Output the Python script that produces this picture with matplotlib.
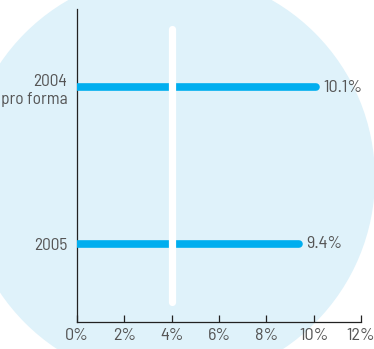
import numpy as np
import matplotlib
matplotlib.use('Agg')
import matplotlib.pyplot as plt
from matplotlib.patches import Circle

# Data
categories = ['2004\npro forma', '2005']
values = [10.1, 9.4]
positions = [1, 0]
xticks = [0, 2, 4, 6, 8, 10, 12]
xticklabels = ['0%', '2%', '4%', '6%', '8%', '10%', '12%']
marker_x = 4

text_color = '#555555'
bar_color = '#00aeef'
circle_color = '#dff2fa'

plt.rcParams['font.family'] = ['Barlow Semi Condensed', 'DejaVu Sans']
plt.rcParams['font.size'] = 13

fig = plt.figure(figsize=(3.74, 3.49), dpi=100)

# Background circle, drawn in pixel space
bg = fig.add_axes([0, 0, 1, 1])
bg.set_xlim(0, 374)
bg.set_ylim(349, 0)
bg.axis('off')
bg.add_patch(Circle((170, 178), 205, color=circle_color, lw=0))

# Main chart
ax = fig.add_axes([0.2059, 0.0774, 0.7594, 0.8968])
ax.patch.set_alpha(0)

for pos, val in zip(positions, values):
    ax.plot([0, val], [pos, pos], color=bar_color, lw=5.5,
            solid_capstyle='round', zorder=2)
    ax.text(val + 0.3, pos, f'{val}%', ha='left', va='center',
            color=text_color, fontsize=13)

# White reference line at 4%
ax.plot([marker_x, marker_x], [-0.37, 1.37], color='white', lw=5.2,
        solid_capstyle='round', zorder=3)

ax.set_xlim(0, 12)
ax.set_ylim(-0.5, 1.5)
ax.set_xticks(xticks)
ax.set_xticklabels(xticklabels)
ax.set_yticks(positions)
ax.set_yticklabels(categories, linespacing=1.25)

ax.spines['top'].set_visible(False)
ax.spines['right'].set_visible(False)
for s in ['left', 'bottom']:
    ax.spines[s].set_color('#222222')
    ax.spines[s].set_linewidth(0.9)
    ax.spines[s].set_zorder(1)

ax.tick_params(axis='x', direction='in', length=5, width=0.9,
               color='#222222', labelcolor=text_color, pad=4, labelsize=13)
ax.tick_params(axis='y', length=0, labelcolor=text_color, pad=7, labelsize=12.5)

fig.savefig('out.png', dpi=100)
